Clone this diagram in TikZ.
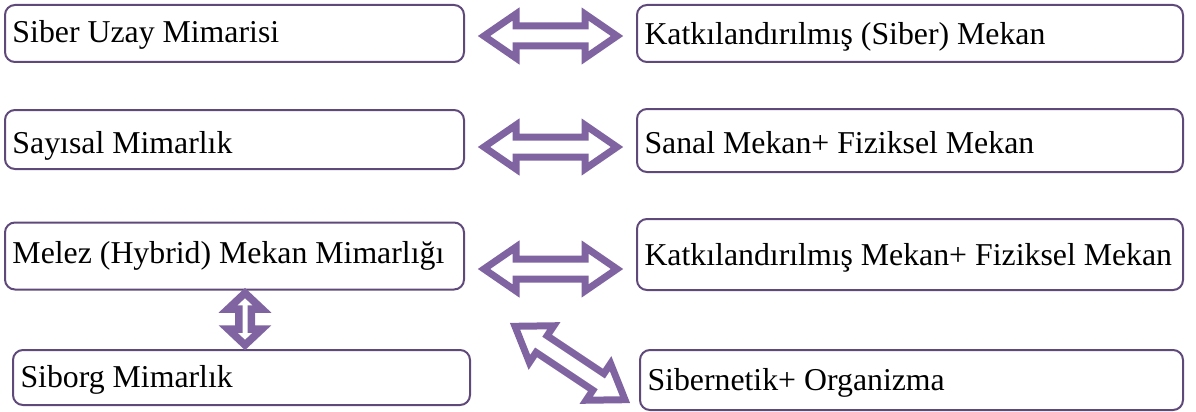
\documentclass[tikz,border=0pt]{standalone}
\usepackage{fontspec}
\setmainfont{Liberation Serif}
\usetikzlibrary{calc}

\definecolor{boxline}{HTML}{5F497A}
\definecolor{arrowline}{HTML}{8064A2}

% Box label font
\newcommand{\boxfont}{\fontsize{31.8}{38}\selectfont}

% Outlined double-headed block arrow between two named tip points.
% [options]{tip A}{tip B}{head length}{head half-width}{shaft half-width}
\newcommand{\blockarrow}[6][]{%
  \draw[barrow,#1]
    (#2)
    -- ($(#2)!#4!(#3)!#5!90:(#3)$)
    -- ($(#2)!#4!(#3)!#6!90:(#3)$)
    -- ($(#3)!#4!(#2)!#6!-90:(#2)$)
    -- ($(#3)!#4!(#2)!#5!-90:(#2)$)
    -- (#3)
    -- ($(#3)!#4!(#2)!#5!90:(#2)$)
    -- ($(#3)!#4!(#2)!#6!90:(#2)$)
    -- ($(#2)!#4!(#3)!#6!-90:(#3)$)
    -- ($(#2)!#4!(#3)!#5!-90:(#3)$)
    -- cycle;}

\begin{document}
\begin{tikzpicture}[
  x=1pt, y=-1pt,
  box/.style={draw=boxline, line width=2pt, rounded corners=10pt,
    inner xsep=7.5pt, inner ysep=0pt, align=flush left, text depth=8pt,
    font=\boxfont},
  barrow/.style={draw=arrowline, fill=white, line width=7pt,
    line join=miter, miter limit=20}
]
\useasboundingbox (0,0) rectangle (1196,412);

% left column
\node[box, text width=444pt, minimum height=57pt, text height=27pt] (L1) at (234.5,33.5) {\mbox{Siber Uzay Mimarisi}};
\node[box, text width=444pt, minimum height=59pt, text height=35pt] (L2) at (234.5,139.5) {\mbox{Sayısal Mimarlık}};
\node[box, text width=444pt, minimum height=67pt, text height=23pt] (L3) at (234.5,256) {\mbox{Melez (Hybrid) Mekan Mimarlığı}};
\node[box, text width=442pt, minimum height=55pt, text height=27pt] (L4) at (241.5,377.5) {\mbox{Siborg Mimarlık}};

% right column
\node[box, text width=531pt, minimum height=57pt, text height=30pt] (R1) at (910,33.5) {\mbox{Katkılandırılmış (Siber) Mekan}};
\node[box, text width=531pt, minimum height=63pt, text height=33pt] (R2) at (910,140.5) {\mbox{Sanal Mekan+ Fiziksel Mekan}};
\node[box, text width=531pt, minimum height=71pt, text height=29pt] (R3) at (910,254.5) {\mbox{Katkılandırılmış Mekan+ Fiziksel Mekan}};
\node[box, text width=528pt, minimum height=60pt, text height=28pt] (R4) at (911.5,380) {\mbox{Sibernetik+ Organizma}};

% arrow tips
\coordinate (h1a) at (484,36);    \coordinate (h1b) at (617,36);
\coordinate (h2a) at (484,147);   \coordinate (h2b) at (617,147);
\coordinate (h3a) at (484,269);   \coordinate (h3b) at (617,269);
\coordinate (v1a) at (245,293);   \coordinate (v1b) at (245,345);
\coordinate (d1a) at (515,326.3); \coordinate (d1b) at (625,399.7);

% connectors
\blockarrow{h1a}{h1b}{32pt}{22pt}{10pt}
\blockarrow{h2a}{h2b}{32pt}{22pt}{10pt}
\blockarrow{h3a}{h3b}{32pt}{22pt}{10pt}
\blockarrow{d1a}{d1b}{32pt}{22pt}{10pt}
\blockarrow[line width=7.5pt]{v1a}{v1b}{16pt}{17pt}{6.25pt}
\end{tikzpicture}
\end{document}
